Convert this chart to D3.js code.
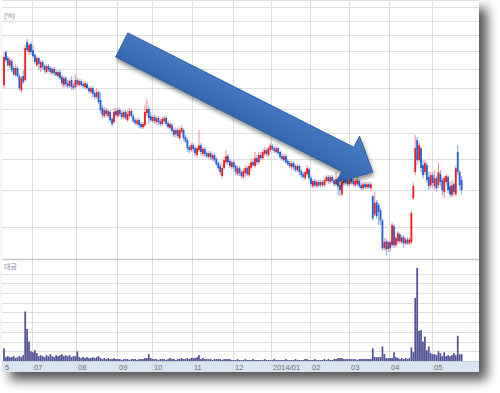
<!DOCTYPE html>
<html>
<head>
<meta charset="utf-8">
<script src="https://cdn.jsdelivr.net/npm/d3@7/dist/d3.min.js"></script>
<style>
  html, body { margin: 0; padding: 0; background: #fff; }
  svg { display: block; }
</style>
</head>
<body>
<svg id="chart" width="500" height="393"></svg>
<script>
// daily candles [open, high, low, close], won
var ohlc = [
  // 2013/06
  [10140,11960,9990,11670],[11960,12080,11380,11490],[11610,11720,11100,11210],[11150,11670,11040,11490],
  [11430,11550,10820,10930],[11040,11150,10610,10710],[10660,11270,10560,11040],[11040,11150,10500,10610],
  [10610,10710,9890,9990],[9890,10610,9740,10500],[10610,10930,10190,10300],[10400,12390,10300,12200],
  [12570,12760,11960,12080],[11960,12510,11780,12390],[12450,12570,11780,11960],
  // 07
  [12080,12390,11610,11720],[11780,11900,11270,11380],[11210,11720,11100,11610],[11610,11670,10930,11270],
  [11040,11490,10820,11380],[11380,11490,10930,11100],[11150,11270,10770,10930],[10820,11270,10710,11150],
  [11150,11270,10820,10930],[11040,11150,10710,10820],[10770,11100,10660,10990],[10990,11100,10610,10770],
  [10820,10930,10560,10660],[10610,10930,10500,10820],[10820,10930,10400,10500],[10560,10660,10090,10240],
  [10140,10610,9990,10500],[10500,10610,10040,10190],[10240,10400,9990,10090],[10090,10450,9990,10350],
  [10400,10610,9890,10040],[10090,10240,9890,9990],[10040,10710,9940,10400],
  // 08
  [10400,10500,10090,10190],[10140,10450,10040,10350],[10350,10450,10040,10140],[10190,10300,9990,10090],
  [10040,10350,9940,10240],[10190,10300,9890,9990],[9990,10090,9740,9840],[9790,10090,9700,9990],
  [9990,10090,9550,9700],[9740,9890,9460,9550],[9550,9990,9460,9790],[9790,9890,9230,9320],
  [9410,9790,8820,8950],[9050,9180,8600,8730],[8690,9090,8600,8950],[8950,9050,8650,8780],
  [8690,9000,8600,8910],[8870,8950,8430,8510],[8560,8650,8260,8350],[8430,9050,8350,8870],
  [8910,9050,8650,8730],
  // 09
  [8690,9090,8600,8950],[8950,9050,8690,8780],[8820,8910,8560,8650],[8650,8950,8560,8870],
  [8870,8950,8510,8600],[8510,8910,8430,8780],[8690,9050,8600,8910],[8910,9000,8600,8690],
  [8690,8780,8390,8470],[8510,8600,8300,8390],[8350,8600,8260,8510],[8510,8600,8180,8300],
  [8350,8430,8140,8220],[8220,8430,8140,8350],[8300,9180,8220,8870],[8820,9460,8690,9000],
  [9000,9140,8350,8600],[8690,8870,8430,8510],
  // 10
  [8470,8730,8390,8650],[8650,8780,8350,8470],[8430,8690,8300,8600],[8600,8690,8300,8430],
  [8470,8560,8260,8350],[8350,8650,8260,8560],[8470,8690,8350,8600],[8600,8690,8260,8350],
  [8390,8470,8140,8220],[8180,8430,8100,8350],[8300,8390,7980,8060],[8100,8180,7820,7900],
  [7940,8220,7820,8100],[8100,8180,7780,7860],[7780,8220,7700,8100],[8020,8300,7940,8180],
  [8100,8180,7660,7780],[7820,7900,7590,7660],[7700,7780,7260,7400],[7440,7510,7220,7330],
  [7330,7590,7260,7510],
  // 11
  [7510,7590,7260,7370],[7400,7470,7110,7220],[7150,7470,7040,7400],[7330,8100,7260,7510],
  [7510,7590,7150,7260],[7190,7440,7110,7370],[7370,7440,7080,7190],[7220,7290,7040,7110],
  [7080,7290,7010,7220],[7220,7290,6970,7080],[7010,7220,6940,7150],[7150,7220,6900,6970],
  [7010,7080,6770,6830],[6870,6940,6630,6700],[6770,6870,6470,6570],[6440,6830,6370,6700],
  [6700,7080,6630,6970],[6900,7330,6830,7110],[7110,7190,6800,6900],[6940,7010,6700,6770],
  [6730,6970,6660,6900],
  // 12
  [6900,6970,6630,6730],[6770,6830,6470,6570],[6500,6800,6440,6700],[6700,6770,6440,6530],
  [6570,6630,6370,6440],[6410,6700,6340,6600],[6530,6800,6440,6700],[6700,6770,6440,6500],
  [6470,6870,6410,6770],[6700,7010,6630,6900],[6900,7010,6730,6800],[6770,7260,6700,7040],
  [7040,7150,6800,6900],[6900,7260,6830,7150],[7150,7260,6970,7040],[7040,7370,6970,7260],
  [7190,7440,7110,7330],[7330,7400,7110,7190],[7150,7470,7080,7400],[7330,7590,7260,7510],
  // 2014/01
  [7470,7550,7290,7370],[7400,7470,7220,7290],[7260,7470,7190,7400],[7400,7470,7150,7220],
  [7260,7330,7010,7080],[7110,7190,6940,7010],[6970,7190,6900,7110],[7110,7190,6830,6900],
  [6940,7010,6770,6830],[6870,6940,6700,6770],[6730,6940,6660,6870],[6870,6940,6630,6730],
  [6770,6830,6570,6630],[6630,6830,6570,6770],[6770,6830,6470,6570],[6600,6660,6370,6470],
  [6500,6570,6340,6410],[6370,6630,6310,6570],[6500,6800,6440,6700],[6660,6730,6280,6370],
  // 02
  [6370,6440,6090,6180],[6120,6340,6060,6280],[6280,6340,6090,6150],[6120,6310,6060,6250],
  [6250,6310,6090,6150],[6150,6310,6090,6250],[6250,6310,6090,6150],[6150,6370,6090,6310],
  [6280,6470,6220,6410],[6410,6470,6180,6280],[6250,6470,6180,6410],[6410,6470,6220,6280],
  [6310,6370,6120,6180],[6180,6570,6120,6340],[6340,6410,5850,6120],[6150,6220,5820,6000],
  [5880,6310,5820,6250],[6220,6440,6150,6370],[6410,6470,6180,6250],[6280,6340,6120,6180],
  // 03
  [6180,6410,6120,6340],[6370,6440,6180,6250],[6280,6340,6120,6180],[6150,6340,6090,6280],
  [6180,6440,6120,6310],[6280,6340,6060,6120],[6150,6220,6000,6060],[6060,6250,6000,6180],
  [6180,6250,6030,6090],[6090,6250,6030,6180],[6180,6250,6030,6090],[6060,6250,6000,6180],
  [5820,5850,5160,5210],[5320,5940,5270,5630],[5650,5710,5210,5270],[5570,5630,5040,5380],
  [5430,5490,5040,5160],[5160,5210,4440,4490],[4490,4720,4440,4630],[4650,4720,4330,4470],
  [4470,4670,4400,4630],
  // 04
  [4630,4670,4420,4490],[4560,5110,4510,5040],[5010,5060,4490,4560],[4560,4770,4510,4720],
  [4650,4890,4580,4840],[4810,4860,4600,4650],[4630,4790,4580,4740],[4740,4790,4510,4600],
  [4600,4740,4560,4690],[4690,4740,4560,4600],[4600,4740,4560,4690],[4630,5400,4580,5350],
  [5770,6220,5710,6120],[6570,7900,6470,7400],[7700,7820,6800,6970],[6970,7620,6900,7510],
  [7400,7470,6570,6700],[6800,6970,6370,6470],[6570,6970,6470,6870],[6800,6900,6220,6310],
  [6410,6570,6000,6120],[6150,6570,6060,6470],
  // 05
  [6470,6570,6060,6220],[6120,6630,6000,6370],[6370,6440,5940,6060],[6150,6870,6060,6570],
  [6500,6630,6120,6250],[6310,6410,5850,6000],[5940,6440,5770,6370],[6250,6500,6150,6440],
  [6410,6470,5910,6000],[6120,6250,5790,5880],[5850,6310,5790,6150],[6180,6250,5850,5940],
  [5880,6770,5820,6700],[7260,7510,6470,6570],[6570,6630,6000,6150],[6310,6440,5880,6000]
];

// trading value (대금), same days
var volume = [
  13,4,5,4,4,5,3,4,5,4,6,51,33,20,10,
  9,11,8,5,6,5,4,6,5,7,5,4,6,5,6,7,5,6,5,6,4,5,5,
  10,4,3,4,3,4,3,3,4,3,4,5,3,2,3,2,3,2,2,3,2,
  2,2,1,2,2,2,1,2,2,2,1,2,2,2,3,3,7,3,
  2,2,2,1,2,2,2,1,2,3,2,2,1,2,2,3,2,2,3,2,3,
  3,3,4,6,2,3,2,2,2,2,1,2,2,2,2,1,2,2,2,2,1,
  1,1,2,1,1,1,2,1,1,1,2,1,1,1,1,1,2,1,1,1,
  1,2,1,1,1,1,1,2,1,1,1,1,2,1,1,1,1,2,2,1,
  1,1,2,1,1,1,1,2,1,2,1,1,2,2,3,3,3,2,2,2,
  2,2,2,2,1,2,2,2,2,2,2,2,13,4,4,4,4,15,7,3,3,
  3,3,9,4,3,2,3,2,3,2,3,14,9,65,96,31,32,20,25,11,15,8,
  7,7,6,10,8,5,9,5,6,5,6,8,6,26,7,7
];

var monthLabels = ['5', '07', '08', '09', '10', '11', '12', '2014/01', '02', '03', '04', '05'];
var monthStarts = [0, 15, 38, 59, 77, 98, 119, 139, 159, 179, 200, 222];
var priceTicks = [5000, 6000, 7000, 8000, 9000, 10000, 11000, 12000, 13000, 14000, 15000];
var volumeTicks = [10, 20, 30, 40, 50, 60, 70, 80, 90];
// trend arrow: [day index, price]
var arrowStart = [61, 12390];
var arrowEnd = [191, 6570];

var left = 2, right = 479, priceBottom = 259, volTop = 260, volBottom = 361, bandBottom = 372;

var svg = d3.select('#chart');
var defs = svg.append('defs');

var sh = defs.append('filter').attr('id', 'panelShadow')
  .attr('x', '-10%').attr('y', '-10%').attr('width', '125%').attr('height', '125%');
sh.append('feDropShadow').attr('dx', 8).attr('dy', 8).attr('stdDeviation', 6)
  .attr('flood-color', '#000').attr('flood-opacity', 0.68);

var ash = defs.append('filter').attr('id', 'arrowShadow')
  .attr('x', '-20%').attr('y', '-20%').attr('width', '140%').attr('height', '140%');
ash.append('feDropShadow').attr('dx', 1).attr('dy', 3).attr('stdDeviation', 2)
  .attr('flood-color', '#000').attr('flood-opacity', 0.45);

var grad = defs.append('linearGradient').attr('id', 'arrowFill')
  .attr('x1', 0).attr('y1', 0).attr('x2', 0).attr('y2', 1);
grad.append('stop').attr('offset', '0%').attr('stop-color', '#4a80c8');
grad.append('stop').attr('offset', '100%').attr('stop-color', '#2e60a6');

var x = d3.scaleLinear().domain([0, 246]).range([3, 478]);
var y = d3.scaleLog().domain([4255, 15510]).range([priceBottom, 0]);
var yv = d3.scaleLinear().domain([0, 104]).range([volBottom, volTop]);

// panel
svg.append('rect').attr('x', left).attr('y', 0).attr('width', right - left).attr('height', bandBottom)
  .attr('fill', '#fff').attr('filter', 'url(#panelShadow)');

// grid
svg.append('g').selectAll('line').data(priceTicks).enter().append('line')
  .attr('x1', left).attr('x2', right)
  .attr('y1', function(d) { return Math.round(y(d)) + 0.5; })
  .attr('y2', function(d) { return Math.round(y(d)) + 0.5; })
  .attr('stroke', '#dfdfdf');
svg.append('g').selectAll('line').data(volumeTicks).enter().append('line')
  .attr('x1', left).attr('x2', right)
  .attr('y1', function(d) { return Math.round(yv(d)) + 0.5; })
  .attr('y2', function(d) { return Math.round(yv(d)) + 0.5; })
  .attr('stroke', '#dfdfdf');
svg.append('line').attr('x1', left).attr('x2', right).attr('y1', 0.5).attr('y2', 0.5).attr('stroke', '#e2e2e2');

// date band
svg.append('rect').attr('x', left).attr('y', volBottom + 1).attr('width', right - left)
  .attr('height', bandBottom - volBottom - 1).attr('fill', '#d8e4f1');
svg.append('line').attr('x1', left).attr('x2', right).attr('y1', volBottom + 0.5).attr('y2', volBottom + 0.5)
  .attr('stroke', '#c4d2e2');

svg.append('g').selectAll('line').data(monthStarts.slice(1)).enter().append('line')
  .attr('x1', function(d) { return Math.round(x(d)) + 0.5; })
  .attr('x2', function(d) { return Math.round(x(d)) + 0.5; })
  .attr('y1', 0).attr('y2', bandBottom)
  .attr('stroke', '#dedede');

svg.append('line').attr('x1', left).attr('x2', right).attr('y1', priceBottom + 0.5).attr('y2', priceBottom + 0.5)
  .attr('stroke', '#c8c8c8').attr('stroke-width', 1.5);

svg.append('g').selectAll('text').data(monthLabels).enter().append('text')
  .attr('x', function(d, i) { return Math.round(x(monthStarts[i])) + 2; })
  .attr('y', 370)
  .attr('font-family', 'Liberation Sans Narrow, Liberation Sans, sans-serif')
  .attr('font-size', 7.5).attr('fill', '#707070')
  .text(function(d) { return d; });

svg.append('text').attr('x', 4).attr('y', 18).attr('font-family', 'Liberation Sans, sans-serif')
  .attr('font-size', 7).attr('fill', '#8a8a8a').text('(%)');
svg.append('text').attr('x', 4).attr('y', 269).attr('font-family', 'Noto Sans CJK KR, sans-serif')
  .attr('font-size', 7).attr('fill', '#8484aa').text('대금');

// volume bars
svg.append('g').selectAll('rect').data(volume).enter().append('rect')
  .attr('x', function(d, i) { return x(i + 0.5) - 0.85; })
  .attr('width', 1.7)
  .attr('y', function(d) { return yv(d); })
  .attr('height', function(d) { return volBottom - yv(d); })
  .attr('fill', '#4f4f93');

// candles
var candle = svg.append('g').selectAll('g').data(ohlc).enter().append('g');
candle.append('rect')
  .attr('x', function(d, i) { return x(i + 0.5) - 0.6; })
  .attr('width', 1.2)
  .attr('y', function(d) { return y(d[1]); })
  .attr('height', function(d) { return y(d[2]) - y(d[1]); })
  .attr('fill', function(d) { return d[3] >= d[0] ? '#f5a0a0' : '#92b2ea'; });
candle.append('rect')
  .attr('x', function(d, i) { return x(i + 0.5) - 0.9; })
  .attr('width', 1.8)
  .attr('y', function(d) { return Math.min(y(d[0]), y(d[3])); })
  .attr('height', function(d) { return Math.max(1, Math.abs(y(d[0]) - y(d[3]))); })
  .attr('fill', function(d) { return d[3] >= d[0] ? '#f21c1c' : '#1f5fcf'; });

// arrow
var p0 = [x(arrowStart[0] + 0.5), y(arrowStart[1])];
var p1 = [x(arrowEnd[0] + 0.5), y(arrowEnd[1])];
var len = Math.hypot(p1[0] - p0[0], p1[1] - p0[1]);
var ang = Math.atan2(p1[1] - p0[1], p1[0] - p0[0]) * 180 / Math.PI;
var shaft = 13.5, head = 26, headLen = 28;
var pts = [[0, -shaft], [len - headLen, -shaft], [len - headLen, -head], [len, 0],
  [len - headLen, head], [len - headLen, shaft], [0, shaft]];
svg.append('g').attr('filter', 'url(#arrowShadow)')
  .append('path')
  .attr('d', d3.line()(pts) + 'Z')
  .attr('transform', 'translate(' + p0[0] + ',' + p0[1] + ') rotate(' + ang + ')')
  .attr('fill', 'url(#arrowFill)')
  .attr('stroke', '#2c5895').attr('stroke-width', 0.8);
</script>
</body>
</html>
